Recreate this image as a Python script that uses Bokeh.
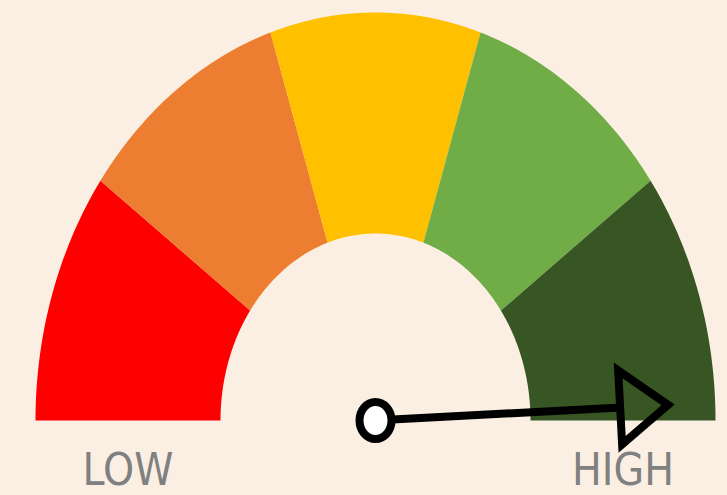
import numpy as np
from bokeh.plotting import figure
from bokeh.core.properties import value
from bokeh.embed import file_html
from bokeh.resources import INLINE

# ---- data ----
segment_sizes = [20, 20, 20, 20, 20]          # equal bands on a 0-100 scale
segment_colors = ["#FF0000", "#ED7D31", "#FFC000", "#70AD47", "#375623"]
end_labels = ["LOW", "HIGH"]
needle_value = 98.3                            # 0..100

# ---- geometry (pixel-like data units) ----
RX_OUT, RY_OUT = 340, 408
RX_IN, RY_IN = 155, 187
BG = "#FBEFE3"

W, H = 727, 495
cx_px, cy_px = 375, 420   # gauge centre within figure (from top-left)

p = figure(width=W, height=H, output_backend="svg", toolbar_location=None,
           x_range=(-cx_px, W - cx_px), y_range=(-(H - cy_px), cy_px),
           min_border=0)
p.axis.visible = False
p.grid.visible = False
p.outline_line_color = None
p.background_fill_color = BG
p.border_fill_color = BG

total = sum(segment_sizes)
xs, ys = [], []
start = 0
for s in segment_sizes:
    a0 = np.pi * (1 - start / total)
    a1 = np.pi * (1 - (start + s) / total)
    t = np.linspace(a0, a1, 60)
    x = np.concatenate([RX_OUT * np.cos(t), RX_IN * np.cos(t[::-1])])
    y = np.concatenate([RY_OUT * np.sin(t), RY_IN * np.sin(t[::-1])])
    xs.append(list(x)); ys.append(list(y))
    start += s
p.patches(xs, ys, fill_color=segment_colors, line_color=None)

# needle (screen-space angle)
ang = np.pi * (1 - needle_value / 100)
tip_len, head_len, head_half = 293, 48, 37
ux, uy = np.cos(ang), np.sin(ang)
nx, ny = -uy, ux
r0 = 17
back = tip_len - head_len
p.line([r0 * ux, back * ux], [r0 * uy, back * uy], line_color="black", line_width=8)
hx = [tip_len * ux, back * ux + head_half * nx, back * ux - head_half * nx]
hy = [tip_len * uy, back * uy + head_half * ny, back * uy - head_half * ny]
p.patch(hx, hy, fill_alpha=0, line_color="black", line_width=8, line_join="miter")

p.ellipse(x=[0], y=[0], width=32, height=37, fill_color="white",
          line_color="black", line_width=8)

lab_r = (RX_OUT + RX_IN) / 2
p.text(x=[-lab_r, lab_r], y=[-49, -49], text=end_labels,
       text_font=value("'Liberation Sans Narrow', 'DejaVu Sans Condensed', sans-serif"),
       text_font_size="44px", text_color="#808080",
       text_align="center", text_baseline="middle")

html = file_html(p, INLINE)
html = html.replace("<head>", "<head><style>html,body{background:%s;}</style>" % BG, 1)
open("out.html", "w").write(html)
